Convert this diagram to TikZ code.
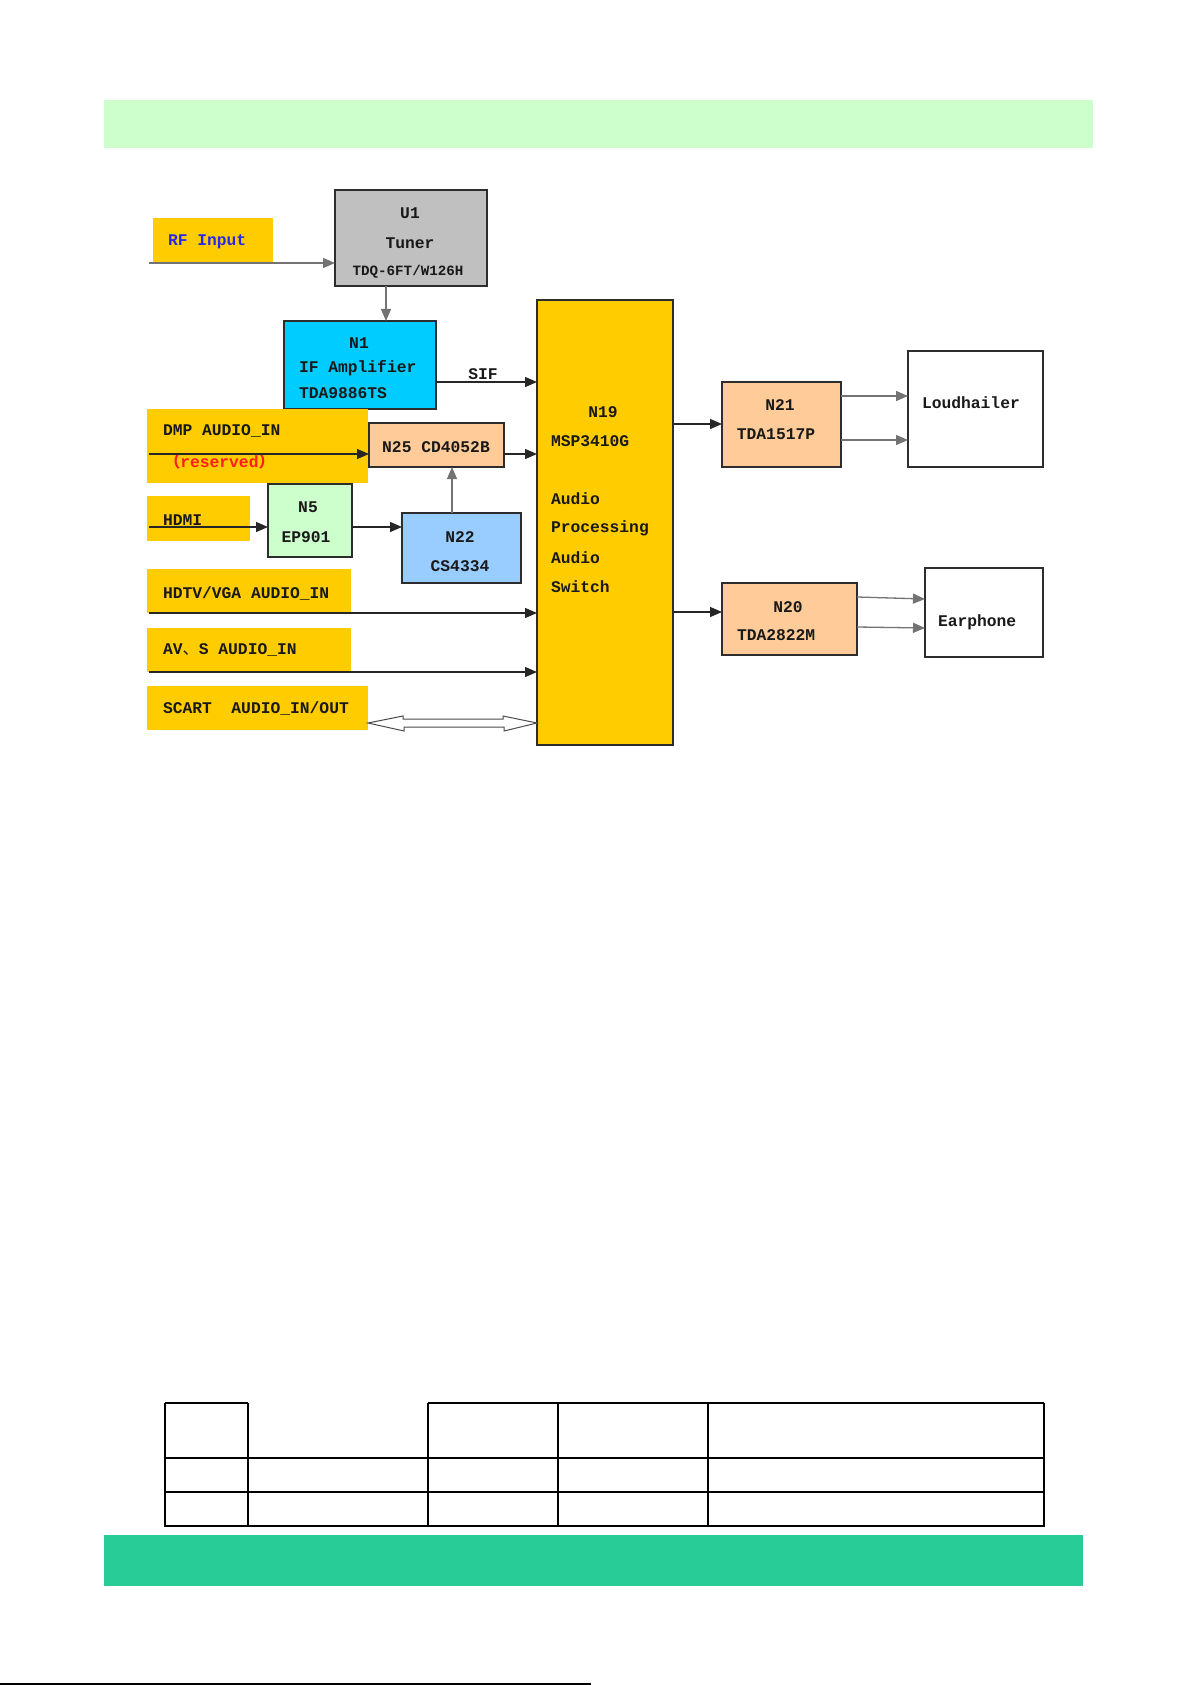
\documentclass[tikz,border=0pt]{standalone}
\usepackage{fontspec}
\setmainfont{Liberation Mono}
\newfontfamily\cjk{Noto Sans CJK SC}
\usetikzlibrary{arrows.meta}
\definecolor{ylw}{RGB}{255,204,0}
\definecolor{tunergray}{RGB}{192,192,192}
\definecolor{ifcyan}{RGB}{0,204,255}
\definecolor{peach}{RGB}{255,204,153}
\definecolor{ltgreen}{RGB}{204,255,204}
\definecolor{ltblue}{RGB}{153,204,255}
\definecolor{bandtop}{RGB}{204,255,204}
\definecolor{bandbot}{RGB}{40,204,150}
\definecolor{boxline}{RGB}{45,45,45}
\definecolor{txt}{RGB}{25,25,25}
\definecolor{rfblue}{RGB}{40,40,235}
\definecolor{resred}{RGB}{255,30,30}
\newcommand{\fs}{\fontsize{16.3pt}{19pt}\selectfont}
\newcommand{\fss}{\fontsize{14.2pt}{17pt}\selectfont}
\tikzset{
  blk/.style={draw=boxline, line width=1.2pt, outer sep=0pt, inner sep=0pt, anchor=north west},
  tag/.style={draw=none, outer sep=0pt, inner sep=0pt, anchor=north west, fill=ylw},
  lab/.style={inner sep=0pt, outer sep=0pt, font=\fs\bfseries, text=txt},
  arr/.style={line width=1.3pt, draw=black!85, -{Triangle[length=12pt,width=10pt]}},
  garr/.style={arr, draw=black!55},
  hollow/.style={line width=1pt, draw=black!70, fill=white},
  tbl/.style={line width=1.5pt, draw=black}
}
\begin{document}
\begin{tikzpicture}[x=1pt,y=-1pt]
\useasboundingbox (0,0) rectangle (1191,1685);
\fill[white] (0,0) rectangle (1191,1685);
% bands
\fill[bandtop] (104,100) rectangle (1093,148);
\fill[bandbot] (104,1535) rectangle (1083,1586);
\draw[line width=1.5pt] (0,1684) -- (591,1684);

% level coordinates
\coordinate (rfin) at (149,263);
\coordinate (dmpin) at (149,454);
\coordinate (hdmiin) at (149,527);
\coordinate (hdtvin) at (149,613);
\coordinate (avin) at (149,672);
\coordinate (ySIF) at (0,382);
\coordinate (ySC) at (0,723);
\coordinate (yN21) at (0,424);
\coordinate (yL1) at (0,396);
\coordinate (yL2) at (0,440);
\coordinate (yN20) at (0,612);
\coordinate (yE1) at (0,597);
\coordinate (yE2) at (0,627);
\coordinate (xN22) at (452,0);

% boxes
\node[tag, minimum width=120pt, minimum height=45pt] (rfbox) at (153,218) {};
\node[blk, fill=tunergray, minimum width=152pt, minimum height=96pt] (tuner) at (335,190) {};
\node[blk, fill=ifcyan, minimum width=152pt, minimum height=88pt] (n1) at (284,321) {};
\node[tag, minimum width=221pt, minimum height=74pt] (dmp) at (147,409) {};
\node[blk, fill=peach, minimum width=135pt, minimum height=44pt] (n25) at (369,423) {};
\node[tag, minimum width=103pt, minimum height=45pt] (hdmi) at (147,496) {};
\node[blk, fill=ltgreen, minimum width=84pt, minimum height=73pt] (n5) at (268,484) {};
\node[blk, fill=ltblue, minimum width=119pt, minimum height=70pt] (n22) at (402,513) {};
\node[tag, minimum width=204pt, minimum height=44pt] (hdtv) at (147,569) {};
\node[tag, minimum width=204pt, minimum height=44pt] (av) at (147,628) {};
\node[tag, minimum width=221pt, minimum height=44pt] (scart) at (147,686) {};
\node[blk, fill=ylw, minimum width=136pt, minimum height=445pt] (n19) at (537,300) {};
\node[blk, fill=peach, minimum width=119pt, minimum height=85pt] (n21) at (722,382) {};
\node[blk, fill=white, minimum width=135pt, minimum height=116pt] (loud) at (908,351) {};
\node[blk, fill=peach, minimum width=135pt, minimum height=72pt] (n20) at (722,583) {};
\node[blk, fill=white, minimum width=118pt, minimum height=89pt] (ear) at (925,568) {};

% texts
\node[lab, anchor=west, text=rfblue] (trf) at (168,242) {RF Input};
\node[lab] (tu1) at (410,213) {U1};
\node[lab] (tu2) at (410,243) {Tuner};
\node[lab, font=\fss\bfseries] (tu3) at (408,272) {TDQ-6FT/W126H};
\node[lab] (tn1a) at (359,343) {N1};
\node[lab, anchor=west] (tn1b) at (299,368) {IF Amplifier};
\node[lab, anchor=west] (tn1c) at (299,393) {TDA9886TS};
\node[lab] (tsif) at (483,374) {SIF};
\node[lab, anchor=west] (tdmp) at (163,431) {DMP AUDIO\_IN};
\node[lab, anchor=west, text=resred] (tres) at (164,461) {{\cjk （}reserved{\cjk ）}};
\node[lab] (tn25) at (436,447) {N25 CD4052B};
\node[lab, anchor=west] (thdmi) at (163,520) {HDMI};
\node[lab] (tn5a) at (308,507) {N5};
\node[lab] (tn5b) at (306,537) {EP901};
\node[lab] (tn22a) at (460,537) {N22};
\node[lab] (tn22b) at (460,566) {CS4334};
\node[lab, anchor=west] (thdtv) at (163,593) {HDTV/VGA AUDIO\_IN};
\node[lab, anchor=west] (tav) at (163,650) {AV{\cjk\mdseries 、}S AUDIO\_IN};
\node[lab, anchor=west] (tscart) at (163,708) {SCART\ \ AUDIO\_IN/OUT};
\node[lab] (tn19a) at (603,412) {N19};
\node[lab, anchor=west] (tn19b) at (551,441) {MSP3410G};
\node[lab, anchor=west] (tn19c) at (551,499) {Audio};
\node[lab, anchor=west] (tn19d) at (551,528) {Processing};
\node[lab, anchor=west] (tn19e) at (551,558) {Audio};
\node[lab, anchor=west] (tn19f) at (551,587) {Switch};
\node[lab] (tn21a) at (780,405) {N21};
\node[lab] (tn21b) at (776,434) {TDA1517P};
\node[lab, anchor=west] (tloud) at (922,403) {Loudhailer};
\node[lab] (tn20a) at (788,607) {N20};
\node[lab, anchor=west] (tn20b) at (737,635) {TDA2822M};
\node[lab, anchor=west] (tear) at (938,622) {Earphone};

% connectors
\draw[garr] (rfin) -- (rfin -| tuner.west);
\draw[garr] ([xshift=-25pt]tuner.south) -- ([xshift=-25pt]tuner.south |- n1.north);
\draw[arr] (n1.east |- ySIF) -- (n19.west |- ySIF);
\draw[arr] (dmpin) -- (dmpin -| n25.west);
\draw[arr] (n25.east |- dmpin) -- (n19.west |- dmpin);
\draw[garr] (n22.north -| xN22) -- (n25.south -| xN22);
\draw[arr] (hdmiin) -- (hdmiin -| n5.west);
\draw[arr] (n5.east |- hdmiin) -- (n22.west |- hdmiin);
\draw[arr] (hdtvin) -- (hdtvin -| n19.west);
\draw[arr] (avin) -- (avin -| n19.west);
\draw[hollow] (scart.east |- ySC) -- ++(35,-7) -- ++(0,3) -- ++(100,0) -- ++(0,-3)
  -- (n19.west |- ySC) -- ++(-33,8) -- ++(0,-4) -- ++(-100,0) -- ++(0,4) -- cycle;
\draw[arr] (n19.east |- yN21) -- (n21.west |- yN21);
\draw[garr] (n21.east |- yL1) -- (loud.west |- yL1);
\draw[garr] (n21.east |- yL2) -- (loud.west |- yL2);
\draw[arr] (n19.east |- yN20) -- (n20.west |- yN20);
\draw[garr] (n20.east |- yE1) -- ([yshift=-2pt]ear.west |- yE1);
\draw[garr] (n20.east |- yE2) -- ([yshift=-1pt]ear.west |- yE2);

% table
\draw[tbl] (165,1403) -- (248,1403);
\draw[tbl] (428,1403) -- (1044,1403);
\draw[tbl] (165,1403) -- (165,1526) -- (1044,1526) -- (1044,1403);
\draw[tbl] (165,1458) -- (1044,1458);
\draw[tbl] (165,1492) -- (1044,1492);
\foreach \cx in {248,428,558,708} { \draw[tbl] (\cx,1403) -- (\cx,1526); }
\end{tikzpicture}
\end{document}
